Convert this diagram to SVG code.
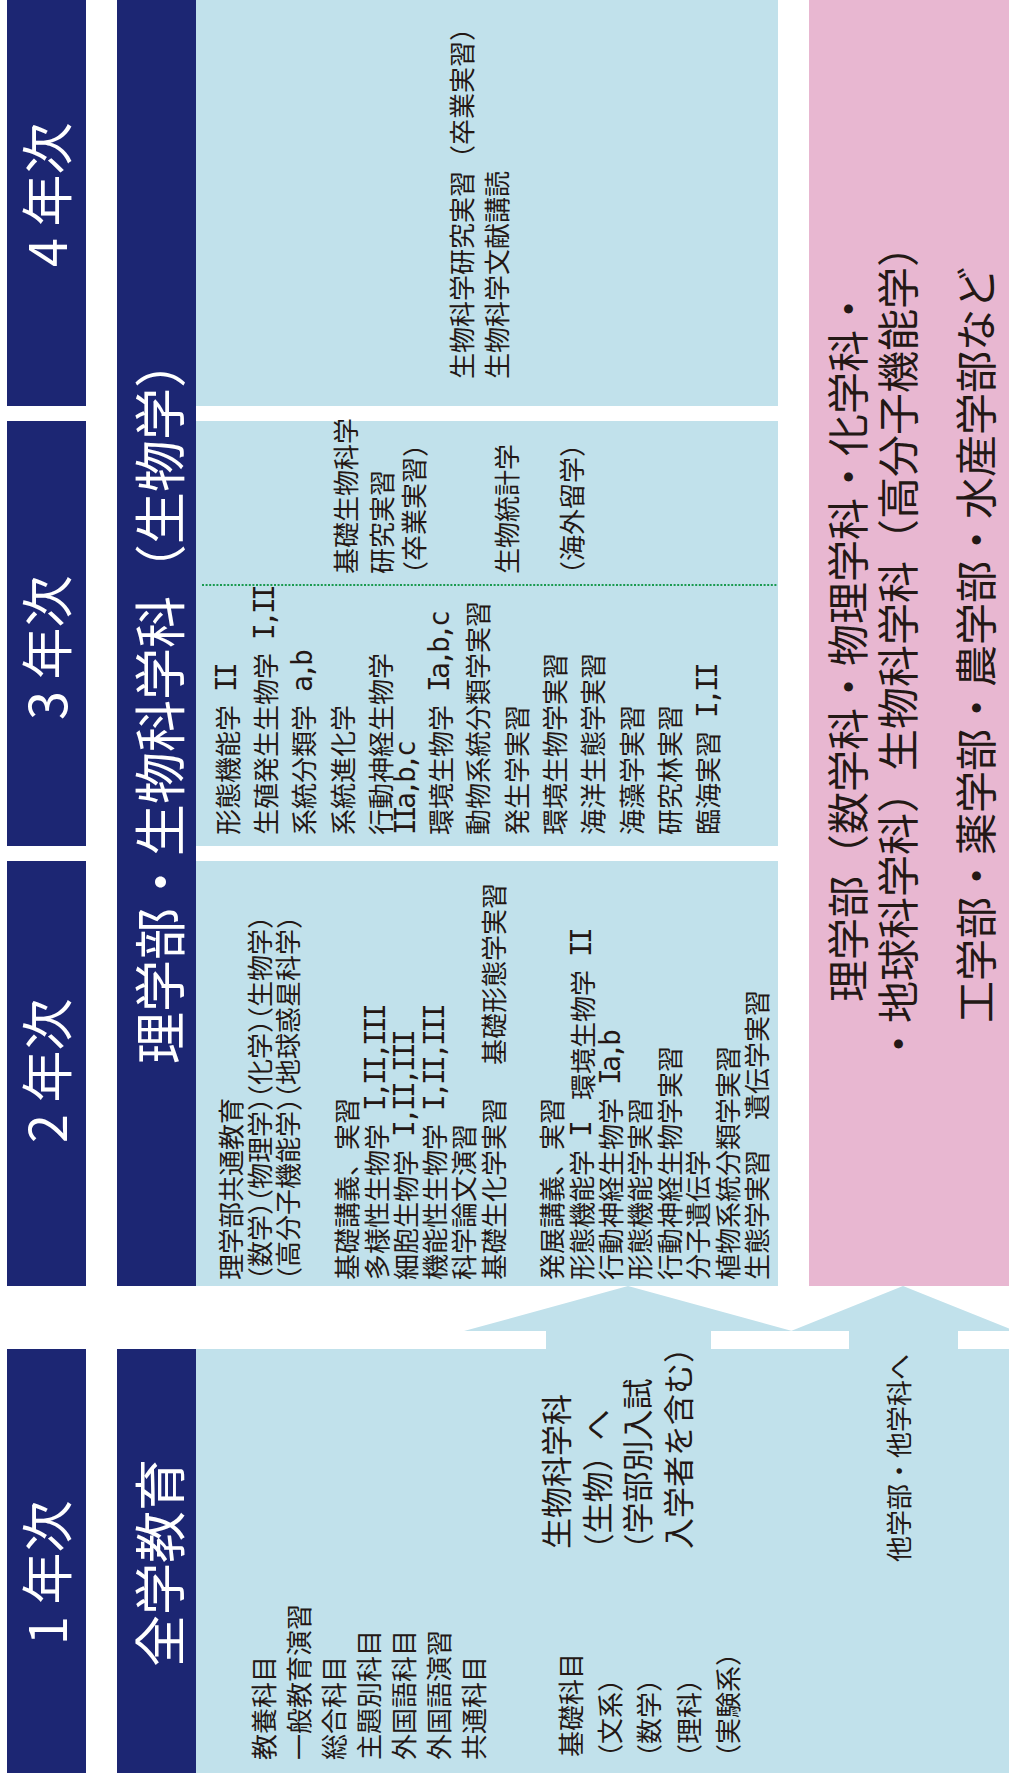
<svg xmlns="http://www.w3.org/2000/svg" width="1009" height="1778" viewBox="0 0 1009 1778">
<style>
text{font-family:"Noto Sans CJK JP","Noto Sans",sans-serif;dominant-baseline:central;fill:#231815}
.nv{fill:#1c2673}
.lb{fill:#c1e1eb}
.pkb{fill:#e8b7d1}
.yr{font-size:52px;fill:#fff}
.hd{font-size:52px;fill:#fff}
.t{font-size:26px}
.tb{font-size:31px}
.pk{font-size:42px;text-anchor:middle}
.h{font-feature-settings:"halt" 1}
.m{font-family:"DejaVu Sans Mono",monospace;font-size:28px;letter-spacing:-3.85px}
</style>
<rect width="1009" height="1778" fill="#fff"/>

<g id="year4"><rect class="nv" x="7" y="0" width="79" height="406"/><text class="yr" transform="rotate(-90)" x="-267" y="44">4 年次</text></g>
<g id="year3"><rect class="nv" x="7" y="421" width="79" height="425"/><text class="yr" transform="rotate(-90)" x="-720" y="44">3 年次</text></g>
<g id="year2"><rect class="nv" x="7" y="861" width="79" height="425"/><text class="yr" transform="rotate(-90)" x="-1143" y="44">2 年次</text></g>
<g id="year1"><rect class="nv" x="7" y="1349" width="79" height="424"/><text class="yr" transform="rotate(-90)" x="-1645" y="44">1 年次</text></g>

<g id="header-bio"><rect class="nv" x="117" y="0" width="79" height="1286"/><text class="hd" transform="rotate(-90)" x="-1064" y="157">理学部・生物科学科（生物学）</text></g>
<g id="header-general"><rect class="nv" x="117" y="1349" width="79" height="424"/><text class="hd" transform="rotate(-90)" x="-1667" y="157">全学教育</text></g>

<g id="connectors">
<polygon class="lb" points="546,1352 546,1331 464,1331 628,1286 792,1331 711,1331 711,1352"/>
<polygon class="lb" points="849,1352 849,1331 791,1331 903,1286 1015,1331 958,1331 958,1352"/>
</g>

<g id="y4-body" transform="rotate(-90)">
<rect class="lb" x="-406" y="196" width="406" height="582"/>
<text class="t" x="-379" y="460">生物科学研究実習（卒業実習<tspan class="h">）</tspan></text>
<text class="t" x="-379" y="495.5">生物科学文献講読</text>
</g>

<g id="y3-body" transform="rotate(-90)">
<rect class="lb" x="-846" y="196" width="425" height="582"/>
<line x1="-585" y1="202" x2="-585" y2="778" stroke="#1a9a50" stroke-width="2" stroke-dasharray="2 1.6"/>
<text class="t" x="-574" y="344.5">基礎生物科学</text>
<text class="t" x="-574" y="380">研究実習</text>
<text class="t" x="-574" y="412.5"><tspan class="h">（</tspan>卒業実習<tspan class="h">）</tspan></text>
<text class="t" x="-574" y="505">生物統計学</text>
<text class="t" x="-574" y="570"><tspan class="h">（</tspan>海外留学<tspan class="h">）</tspan></text>
<text class="t" x="-835" y="226">形態機能学<tspan class="m"> II</tspan></text>
<text class="t" x="-835" y="264">生殖発生生物学<tspan class="m"> I,II</tspan></text>
<text class="t" x="-835" y="302">系統分類学<tspan class="m"> a,b</tspan></text>
<text class="t" x="-835" y="341.5">系統進化学</text>
<text class="t" x="-835" y="379">行動神経生物学</text>
<text class="t" x="-835" y="405"><tspan class="m">IIa,b,c</tspan></text>
<text class="t" x="-835" y="439">環境生物学<tspan class="m"> Ia,b,c</tspan></text>
<text class="t" x="-835" y="476.5">動物系統分類学実習</text>
<text class="t" x="-835" y="515">発生学実習</text>
<text class="t" x="-835" y="553.5">環境生物学実習</text>
<text class="t" x="-835" y="591.5">海洋生態学実習</text>
<text class="t" x="-835" y="630">海藻学実習</text>
<text class="t" x="-835" y="668.5">研究林実習</text>
<text class="t" x="-835" y="706.5">臨海実習<tspan class="m"> I,II</tspan></text>
</g>

<g id="y2-body" transform="rotate(-90)">
<rect class="lb" x="-1286" y="196" width="425" height="582"/>
<text class="t" x="-1280" y="229">理学部共通教育</text>
<text class="t" x="-1280" y="258"><tspan class="h">（</tspan>数学<tspan class="h">）</tspan>（物理学<tspan class="h">）</tspan>（化学<tspan class="h">）</tspan>（生物学<tspan class="h">）</tspan></text>
<text class="t" x="-1280" y="286.5"><tspan class="h">（</tspan>高分子機能学<tspan class="h">）</tspan>（地球惑星科学<tspan class="h">）</tspan></text>
<text class="t" x="-1280" y="345">基礎講義、実習</text>
<text class="t" x="-1280" y="375">多様性生物学<tspan class="m"> I,II,III</tspan></text>
<text class="t" x="-1280" y="404">細胞生物学<tspan class="m"> I,II,III</tspan></text>
<text class="t" x="-1280" y="433.5">機能性生物学<tspan class="m"> I,II,III</tspan></text>
<text class="t" x="-1280" y="462.5">科学論文演習</text>
<text class="t" x="-1280" y="492">基礎生化学実習<tspan x="-1065">基礎形態学実習</tspan></text>
<text class="t" x="-1280" y="550.5">発展講義、実習</text>
<text class="t" x="-1280" y="580.5">形態機能学<tspan class="m"> I</tspan><tspan x="-1100">環境生物学</tspan><tspan class="m"> II</tspan></text>
<text class="t" x="-1280" y="609.5">行動神経生物学<tspan class="m"> Ia,b</tspan></text>
<text class="t" x="-1280" y="638">形態機能学実習</text>
<text class="t" x="-1280" y="668">行動神経生物学実習</text>
<text class="t" x="-1280" y="696.5">分子遺伝学</text>
<text class="t" x="-1280" y="726">植物系統分類学実習</text>
<text class="t" x="-1280" y="755">生態学実習<tspan x="-1120">遺伝学実習</tspan></text>
</g>

<g id="other-faculties" transform="rotate(-90)">
<rect class="pkb" x="-1286" y="809" width="1286" height="200"/>
<text class="pk" x="-645" y="845">理学部（数学科・物理学科・化学科・</text>
<text class="pk" x="-645" y="895">・地球科学科）生物科学科（高分子機能学）</text>
<text class="pk" x="-645" y="973.5">工学部・薬学部・農学部・水産学部など</text>
</g>

<g id="y1-body" transform="rotate(-90)">
<rect class="lb" x="-1773" y="196" width="424" height="813"/>
<text class="t" x="-1760" y="262.5">教養科目</text>
<text class="t" x="-1760" y="297.5">一般教育演習</text>
<text class="t" x="-1760" y="332">総合科目</text>
<text class="t" x="-1760" y="367.5">主題別科目</text>
<text class="t" x="-1760" y="402.5">外国語科目</text>
<text class="t" x="-1760" y="437.5">外国語演習</text>
<text class="t" x="-1760" y="472.5">共通科目</text>
<text class="t" x="-1757" y="569">基礎科目</text>
<text class="t" x="-1757" y="608"><tspan class="h">（</tspan>文系<tspan class="h">）</tspan></text>
<text class="t" x="-1757" y="647"><tspan class="h">（</tspan>数学<tspan class="h">）</tspan></text>
<text class="t" x="-1757" y="687"><tspan class="h">（</tspan>理科<tspan class="h">）</tspan></text>
<text class="t" x="-1757" y="726"><tspan class="h">（</tspan>実験系<tspan class="h">）</tspan></text>
<text class="tb" x="-1549" y="554.5">生物科学科</text>
<text class="tb" x="-1549" y="595.5"><tspan class="h">（</tspan>生物）へ</text>
<text class="tb" x="-1549" y="635.5"><tspan class="h">（</tspan>学部別入試</text>
<text class="tb" x="-1549" y="676">入学者を含む<tspan class="h">）</tspan></text>
<text class="t" x="-1562" y="897">他学部・他学科へ</text>
</g>
</svg>
